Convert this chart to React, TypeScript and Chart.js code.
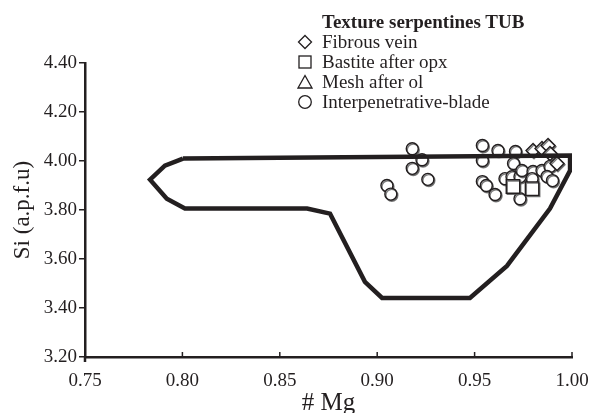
import React, { useEffect, useRef } from "react";
import { Chart, registerables } from "chart.js";

Chart.register(...registerables);

const INK = "#231f20";
const FONT = "'Liberation Serif', 'Times New Roman', serif";

// Tick labels
const xTickValues = [0.75, 0.8, 0.85, 0.9, 0.95, 1.0];
const yTickValues = [3.2, 3.4, 3.6, 3.8, 4.0, 4.2, 4.4];

// Serpentine field boundary (# Mg, Si)
const boundaryMg = [0.8003, 0.999, 0.999, 0.9887, 0.9666, 0.9476, 0.9025, 0.8937, 0.8758, 0.864, 0.8013, 0.792, 0.7834, 0.791, 0.8003];
const boundarySi = [4.01, 4.022, 3.961, 3.806, 3.572, 3.441, 3.441, 3.507, 3.785, 3.806, 3.806, 3.846, 3.924, 3.981, 4.01];

// Fibrous vein
const fibrousMg = [0.98, 0.9846, 0.9877, 0.9887, 0.9923];
const fibrousSi = [4.043, 4.051, 4.063, 4.031, 3.99];

// Bastite after opx
const bastiteMg = [0.9697, 0.9795];
const bastiteSi = [3.896, 3.887];

// Mesh after ol
const meshMg = [0.9836];
const meshSi = [4.035];

// Interpenetrative-blade
const bladeMg = [0.918, 0.923, 0.918, 0.926, 0.905, 0.907, 0.954, 0.962, 0.971, 0.954, 0.97, 0.954, 0.956, 0.9605, 0.9656, 0.9692, 0.9733, 0.9743, 0.98, 0.9846, 0.9887, 0.9872, 0.99, 0.9795, 0.9733];
const bladeSi = [4.05, 4.005, 3.97, 3.925, 3.9, 3.865, 4.063, 4.043, 4.039, 4.002, 3.99, 3.916, 3.9, 3.863, 3.928, 3.936, 3.936, 3.961, 3.957, 3.961, 3.978, 3.937, 3.92, 3.928, 3.846];

const legendTitle = "Texture serpentines TUB";
const legendItems = ["Fibrous vein", "Bastite after opx", "Mesh after ol", "Interpenetrative-blade"];

const toPoints = (xs: number[], ys: number[]) => xs.map((x, i) => ({ x, y: ys[i] }));

const axisMarks = {
  id: "axisMarks",
  afterDraw(chart: any) {
    const { ctx, chartArea, scales } = chart;
    const x = scales.x;
    ctx.save();
    ctx.strokeStyle = INK;
    ctx.lineWidth = 1.5;
    xTickValues.forEach((v) => {
      const px = x.getPixelForValue(v);
      ctx.beginPath();
      ctx.moveTo(px, chartArea.bottom);
      ctx.lineTo(px, chartArea.bottom - 5);
      ctx.stroke();
    });
    ctx.lineWidth = 2.5;
    ctx.beginPath();
    ctx.moveTo(chartArea.left, chartArea.bottom);
    ctx.lineTo(chartArea.left, chartArea.bottom + 5);
    ctx.stroke();
    ctx.restore();
  },
};

const markerShadow = {
  id: "markerShadow",
  beforeDatasetDraw(chart: any, args: any) {
    if (args.index === 0) return;
    const ctx = chart.ctx;
    ctx.save();
    ctx.shadowColor = "rgba(90,90,90,0.8)";
    ctx.shadowOffsetX = 1;
    ctx.shadowOffsetY = 1.2;
    ctx.shadowBlur = 0;
  },
  afterDatasetDraw(chart: any, args: any) {
    if (args.index === 0) return;
    chart.ctx.restore();
  },
};

function Marker({ kind }: { kind: string }) {
  const common = { fill: "white", stroke: INK, strokeWidth: 1.3 };
  let shape: any = null;
  if (kind === "diamond") shape = <polygon points="8,1.5 14.5,8 8,14.5 1.5,8" {...common} />;
  if (kind === "square") shape = <rect x="2" y="2" width="12" height="12" {...common} />;
  if (kind === "triangle") shape = <polygon points="8,1.5 15,14 1,14" {...common} />;
  if (kind === "circle") shape = <circle cx="8" cy="8" r="6.3" {...common} />;
  return (
    <svg width="16" height="16" style={{ position: "absolute", left: 0, top: 0 }}>
      {shape}
    </svg>
  );
}

export default function App() {
  const canvasRef = useRef<HTMLCanvasElement | null>(null);

  useEffect(() => {
    const canvas = canvasRef.current;
    if (!canvas) return;
    const chart = new Chart(canvas, {
      type: "scatter",
      data: {
        datasets: [
          {
            label: "boundary",
            data: toPoints(boundaryMg, boundarySi),
            showLine: true,
            borderColor: INK,
            borderWidth: 4.5,
            borderJoinStyle: "miter",
            pointRadius: 0,
            fill: false,
            tension: 0,
            order: 0,
          },
          {
            label: legendItems[3],
            data: toPoints(bladeMg, bladeSi),
            pointStyle: "circle",
            pointRadius: 6,
            borderWidth: 1.4,
            borderColor: INK,
            backgroundColor: "#ffffff",
            order: 4,
          },
          {
            label: legendItems[1],
            data: toPoints(bastiteMg, bastiteSi),
            pointStyle: "rect",
            pointRadius: 9.5,
            borderWidth: 1.4,
            borderColor: INK,
            backgroundColor: "#ffffff",
            order: 3,
          },
          {
            label: legendItems[2],
            data: toPoints(meshMg, meshSi),
            pointStyle: "triangle",
            pointRadius: 7.5,
            borderWidth: 1.4,
            borderColor: INK,
            backgroundColor: "#ffffff",
            order: 2,
          },
          {
            label: legendItems[0],
            data: toPoints(fibrousMg, fibrousSi),
            pointStyle: "rectRot",
            pointRadius: 7,
            borderWidth: 1.4,
            borderColor: INK,
            backgroundColor: "#ffffff",
            order: 1,
          },
        ],
      },
      options: {
        animation: false,
        responsive: false,
        devicePixelRatio: 1,
        layout: { padding: { top: 63, right: 20, left: 0, bottom: 0 } },
        plugins: { legend: { display: false }, tooltip: { enabled: false } },
        scales: {
          x: {
            type: "linear",
            min: 0.75,
            max: 1.0,
            afterBuildTicks: (scale: any) => {
              scale.ticks = xTickValues.map((v) => ({ value: v }));
            },
            afterFit: (scale: any) => {
              scale.height = 56;
              scale.paddingLeft = 0;
              scale.paddingRight = 0;
            },
            grid: { display: true, drawOnChartArea: false, drawTicks: false, color: INK },
            border: { display: true, color: INK, width: 2.5 },
            ticks: {
              color: INK,
              padding: 13,
              maxRotation: 0,
              autoSkip: false,
              font: { family: FONT, size: 19 },
              callback: (v: any) => Number(v).toFixed(2),
            },
            title: {
              display: true,
              text: "# Mg",
              color: INK,
              font: { family: FONT, size: 25, lineHeight: 1 },
              padding: { top: 0, bottom: -3 },
            },
          },
          y: {
            type: "linear",
            min: 3.2,
            max: 4.4,
            afterBuildTicks: (scale: any) => {
              scale.ticks = yTickValues.map((v) => ({ value: v }));
            },
            afterFit: (scale: any) => {
              scale.width = 85;
              scale.paddingTop = 0;
              scale.paddingBottom = 0;
            },
            grid: { display: true, drawOnChartArea: false, drawTicks: true, tickLength: 6, color: INK, lineWidth: 1.5 },
            border: { display: true, color: INK, width: 2.5 },
            ticks: {
              color: INK,
              padding: 2,
              autoSkip: false,
              font: { family: FONT, size: 19 },
              callback: (v: any) => Number(v).toFixed(2),
            },
            title: {
              display: true,
              text: "Si (a.p.f.u)",
              color: INK,
              font: { family: FONT, size: 23, lineHeight: 1.2 },
              padding: { top: 9.5, bottom: 0 },
            },
          },
        },
      },
      plugins: [axisMarks, markerShadow],
    } as any);
    return () => chart.destroy();
  }, []);

  const kinds = ["diamond", "square", "triangle", "circle"];
  const rowCenters = [42, 62, 82, 102];

  return (
    <div style={{ position: "fixed", left: 0, top: 0, width: 592, height: 413, background: "#fff", overflow: "hidden" }}>
      <canvas ref={canvasRef} width={592} height={413} style={{ position: "absolute", left: 0, top: 0 }} />
      <div
        style={{
          position: "absolute",
          left: 322,
          top: 12,
          fontFamily: FONT,
          fontWeight: "bold",
          fontSize: 19,
          lineHeight: "20px",
          color: INK,
          whiteSpace: "nowrap",
        }}
      >
        {legendTitle}
      </div>
      {legendItems.map((label, i) => (
        <div key={label}>
          <div style={{ position: "absolute", left: 297, top: rowCenters[i] - 8, width: 16, height: 16 }}>
            <Marker kind={kinds[i]} />
          </div>
          <div
            style={{
              position: "absolute",
              left: 322,
              top: rowCenters[i] - 10,
              fontFamily: FONT,
              fontSize: 19,
              lineHeight: "20px",
              color: INK,
              whiteSpace: "nowrap",
            }}
          >
            {label}
          </div>
        </div>
      ))}
    </div>
  );
}
